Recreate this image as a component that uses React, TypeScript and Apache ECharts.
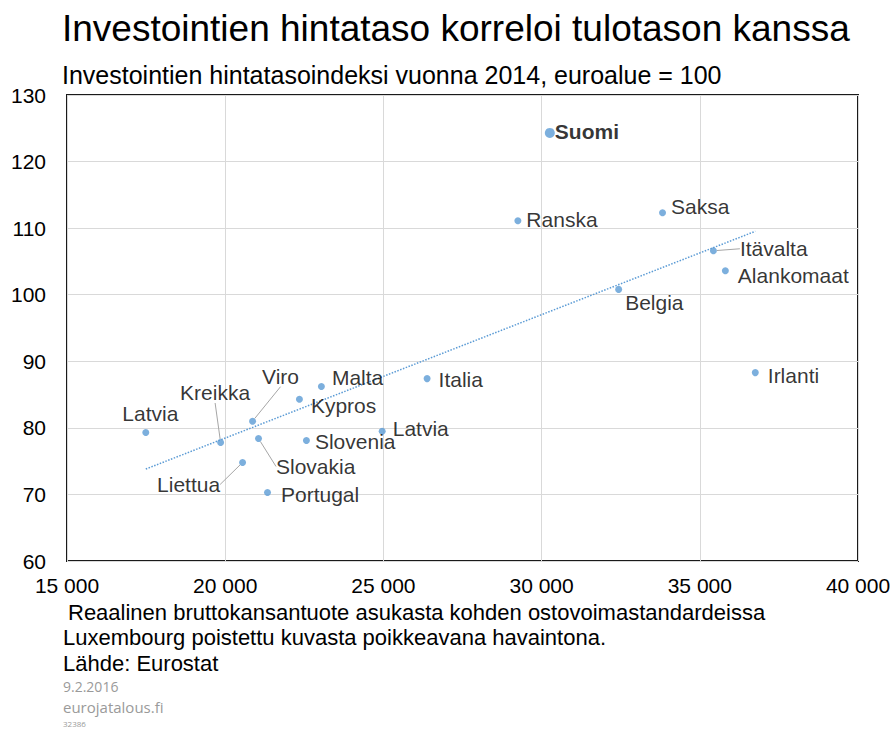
import React, { useEffect, useRef } from "react";
import * as echarts from "echarts";

const countries = [
  "Latvia", "Kreikka", "Viro", "Slovakia", "Liettua", "Portugal", "Kypros", "Malta",
  "Slovenia", "Latvia", "Italia", "Ranska", "Suomi", "Saksa", "Belgia", "Itävalta",
  "Alankomaat", "Irlanti",
];
const gdpPerCapita = [
  17490, 19855, 20864, 21053, 20549, 21337, 22346, 23040,
  22567, 24962, 26381, 29250, 30260, 33822, 32435, 35430,
  35808, 36754,
];
const priceIndex = [
  79.3, 77.8, 81.0, 78.4, 74.8, 70.3, 84.3, 86.2,
  78.1, 79.5, 87.4, 111.1, 124.3, 112.3, 100.8, 106.6,
  103.6, 88.3,
];
const highlighted = "Suomi";

// label placement (dx, dy in px relative to default right position, leader line flag)
const labelOffsets: [number, number, boolean][] = [
  [-30, -19, false], [-47, -50, true], [3, -45, true], [11, 28, true], [-92, 22, true],
  [7, 2, false], [5, 6, false], [4, -9, false], [2, 1, false], [4, -3, false],
  [5, 1, false], [2, -1, false], [-3, -1, false], [2, -6, false], [0, 13, false],
  [20, -2, true], [6, 5, false], [6, 3, false],
];

const FONT = "'Liberation Sans', Arial, sans-serif";
const BLUE = "#5B9BD5";

function fmt(v: number) {
  return String(v).replace(/\B(?=(\d{3})+(?!\d))/g, " ");
}

export default function App() {
  const ref = useRef<HTMLDivElement>(null);
  useEffect(() => {
    document.body.style.margin = "0";
    const chart = echarts.init(ref.current!, undefined, { renderer: "svg" });

    // least-squares trend line through the data
    const n = gdpPerCapita.length;
    const mx = gdpPerCapita.reduce((a, b) => a + b, 0) / n;
    const my = priceIndex.reduce((a, b) => a + b, 0) / n;
    let sxy = 0, sxx = 0;
    for (let i = 0; i < n; i++) {
      sxy += (gdpPerCapita[i] - mx) * (priceIndex[i] - my);
      sxx += (gdpPerCapita[i] - mx) ** 2;
    }
    const slope = sxy / sxx;
    const icpt = my - slope * mx;
    const xmin = Math.min(...gdpPerCapita);
    const xmax = Math.max(...gdpPerCapita);

    const data = countries.map((c, i) => {
      const isHi = c === highlighted;
      return {
        name: c,
        value: [gdpPerCapita[i], priceIndex[i]],
        symbolSize: isHi ? 10 : 7,
        label: isHi ? { fontWeight: "bold" } : undefined,
        labelLine: { show: labelOffsets[i][2] },
      };
    });

    chart.setOption({
      animation: false,
      grid: {
        left: 67, right: 37, top: 95, bottom: 168,
        show: true, borderColor: "#1a1a1a", borderWidth: 2, backgroundColor: "transparent",
      },
      xAxis: {
        type: "value", min: 15000, max: 40000, interval: 5000,
        axisLine: { show: false },
        axisTick: { show: false },
        splitLine: { lineStyle: { color: "#d9d9d9", width: 1 } },
        axisLabel: {
          formatter: (v: number) => fmt(v), color: "#000", fontSize: 21, fontFamily: FONT, margin: 14,
        },
      },
      yAxis: {
        type: "value", min: 60, max: 130, interval: 10,
        axisLine: { show: false },
        axisTick: { show: false },
        splitLine: { lineStyle: { color: "#d9d9d9", width: 1 } },
        axisLabel: { color: "#000", fontSize: 21, fontFamily: FONT, margin: 21 },
      },
      graphic: [
        { type: "text", left: 62, top: 10, style: { text: "Investointien hintataso korreloi tulotason kanssa", font: `37px ${FONT}`, fill: "#000" } },
        { type: "text", left: 62, top: 62, style: { text: "Investointien hintatasoindeksi vuonna 2014, euroalue = 100", font: `25px ${FONT}`, fill: "#000" } },
        { type: "text", left: 68, top: 601, style: { text: "Reaalinen bruttokansantuote asukasta kohden ostovoimastandardeissa", font: `22px ${FONT}`, fill: "#000" } },
        { type: "text", left: 63, top: 626, style: { text: "Luxembourg poistettu kuvasta poikkeavana havaintona.", font: `22px ${FONT}`, fill: "#000" } },
        { type: "text", left: 63, top: 652, style: { text: "Lähde: Eurostat", font: `22px ${FONT}`, fill: "#000" } },
        { type: "text", left: 63, top: 679, style: { text: "9.2.2016", font: "14px 'Open Sans', sans-serif", fill: "#9a9a9a" } },
        { type: "text", left: 63, top: 699, style: { text: "eurojatalous.fi", font: "15px 'Open Sans', sans-serif", fill: "#9a9a9a" } },
        { type: "text", left: 63, top: 719, style: { text: "32386", font: "8px 'Open Sans', sans-serif", fill: "#9a9a9a" } },
      ],
      series: [
        {
          type: "line",
          data: [[xmin, icpt + slope * xmin], [xmax, icpt + slope * xmax]],
          symbol: "none",
          lineStyle: { color: BLUE, width: 1.5, type: [1.5, 1.5] },
          z: 1,
          silent: true,
        },
        {
          type: "scatter",
          data,
          itemStyle: { color: BLUE },
          z: 3,
          label: {
            show: true,
            position: "right",
            distance: 3,
            formatter: "{b}",
            color: "#000",
            fontSize: 21,
            fontFamily: FONT,
          },
          labelLine: { show: false, lineStyle: { color: "#a6a6a6", width: 1 } },
          labelLayout: (p: any) => ({ dx: labelOffsets[p.dataIndex][0], dy: labelOffsets[p.dataIndex][1] }),
        },
      ],
    });
    return () => chart.dispose();
  }, []);
  return <div ref={ref} style={{ width: 895, height: 729 }} />;
}
